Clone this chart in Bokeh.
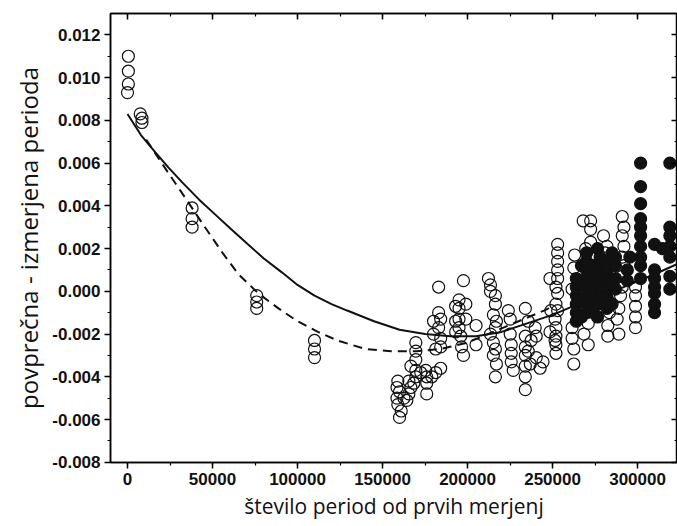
from bokeh.plotting import figure
from bokeh.models import (Range1d, LinearAxis, SingleIntervalTicker,
                          NumeralTickFormatter, CustomJSTickFormatter)
from bokeh.embed import file_html
from bokeh.resources import INLINE

# open circles (x, y)
open_pts = [
    (500, 0.0110), (500, 0.0103), (500, 0.0097), (0, 0.0093),
    (7500, 0.0083), (8500, 0.0081), (8500, 0.0079),
    (38000, 0.0039), (38000, 0.0034), (38000, 0.0030),
    (76000, -0.0002), (76000, -0.0005), (76000, -0.0008),
    (110000, -0.0023), (110000, -0.0027), (110000, -0.0031),
    (159000, -0.0042), (158500, -0.0045), (160000, -0.0047), (158500, -0.0050),
    (159000, -0.0053), (161000, -0.0056), (160000, -0.0059),
    (162600, -0.0050), (164300, -0.0051), (165500, -0.0048), (166700, -0.0045),
    (168400, -0.0043), (165500, -0.0042), (169600, -0.0040), (169600, -0.0037),
    (166700, -0.0035), (169600, -0.0032), (169600, -0.0028), (169600, -0.0024),
    (172500, -0.0038), (175400, -0.0037), (176000, -0.0040), (176000, -0.0043),
    (176000, -0.0048), (179000, -0.0040), (181300, -0.0038), (184200, -0.0036),
    (180000, -0.0014), (183000, -0.0010), (184200, -0.0013), (183000, -0.0017),
    (180000, -0.0020), (184200, -0.0022), (181300, -0.0027), (184200, -0.0026),
    (183000, 0.0002),
    (193000, -0.0007), (193000, -0.0014), (193000, -0.0019),
    (197600, 0.0005),
    (195000, -0.0004), (199000, -0.0006), (195000, -0.0008), (195000, -0.0013),
    (199000, -0.0013), (195000, -0.0017), (196000, -0.0021), (196500, -0.0026),
    (197600, -0.0030),
    (205000, -0.0016), (205000, -0.0025),
    (212300, 0.0006), (213500, 0.0003), (213500, 0.0000), (216400, -0.0002),
    (216400, -0.0006), (215200, -0.0011), (217000, -0.0014), (216400, -0.0017),
    (213500, -0.0020), (215200, -0.0024), (216400, -0.0027), (215200, -0.0030),
    (217000, -0.0034), (216400, -0.0040),
    (224000, -0.0009), (225100, -0.0013), (225100, -0.0020), (225700, -0.0025),
    (225700, -0.0029), (225700, -0.0033), (226900, -0.0037),
    (234000, -0.0008), (234000, -0.0021), (234000, -0.0026), (234000, -0.0030),
    (234000, -0.0035), (234000, -0.0040), (234000, -0.0046),
    (235700, -0.0014), (239800, -0.0017), (240400, -0.0021), (237400, -0.0023),
    (235700, -0.0028), (240400, -0.0031), (236900, -0.0034), (242700, -0.0036),
    (244400, -0.0033),
    (253000, 0.0022), (253000, 0.0018), (253000, 0.0014), (253000, 0.0010),
    (253000, 0.0006), (252000, 0.0002), (253000, -0.0001), (252000, -0.0006),
    (253000, -0.0009), (251500, -0.0013), (252000, -0.0017), (252000, -0.0021),
    (252000, -0.0025), (252000, -0.0029),
    (248500, 0.0006), (249000, -0.0009), (248500, -0.0019), (251500, -0.0023),
    (263000, 0.0017), (262500, 0.0011), (261500, 0.0001), (261500, -0.0017),
    (261500, -0.0022), (262500, -0.0027), (262500, -0.0034),
    (268000, 0.0033), (272400, 0.0033), (272400, 0.0029), (272400, 0.0023),
    (269500, 0.0020), (271000, -0.0015), (268500, -0.0020), (271000, -0.0025),
    (280000, 0.0026), (282000, 0.0021), (281000, 0.0018), (281000, 0.0014),
    (282500, 0.0002), (282500, -0.0004), (283500, -0.0010), (282500, -0.0016),
    (282500, -0.0021),
    (291000, 0.0035), (292000, 0.0030), (291000, 0.0026), (292000, 0.0021),
    (291000, 0.0016), (292000, 0.0012), (291000, 0.0007), (291000, 0.0002),
    (290000, -0.0002), (289000, -0.0008), (288000, -0.0013), (289000, -0.0020),
    (298800, 0.0002), (298800, -0.0002), (298800, -0.0007), (298800, -0.0012),
    (298800, -0.0017),
]

# filled circles (x, y)
filled_pts = [
    (264000, 0.0006), (264000, 0.0002), (264000, -0.0002), (264000, -0.0006),
    (264000, -0.0010), (264000, -0.0014),
    (267000, 0.0012), (267000, 0.0004), (267000, -0.0004), (267000, -0.0012),
    (270000, 0.0018), (270000, 0.0014), (270000, 0.0010), (270000, 0.0006),
    (270000, 0.0002), (270000, -0.0002), (270000, -0.0006), (270000, -0.0010),
    (274000, 0.0012), (274000, 0.0008), (274000, 0.0004), (274000, 0.0000),
    (274000, -0.0004), (274000, -0.0008),
    (276500, 0.0020), (276500, 0.0010), (276500, -0.0006), (276500, -0.0012),
    (278000, 0.0016), (278000, 0.0012), (278000, 0.0008), (278000, 0.0004),
    (278000, -0.0002),
    (282000, 0.0014), (282000, 0.0010), (282000, 0.0006), (282000, 0.0002),
    (282000, -0.0003), (282000, -0.0008),
    (285000, 0.0018), (285000, 0.0004), (285000, -0.0006),
    (287000, 0.0016), (287000, 0.0012), (287000, 0.0006), (287000, 0.0001),
    (294000, 0.0010), (294000, 0.0005), (295500, 0.0016),
    (301800, 0.0060), (301800, 0.0049), (301800, 0.0041), (301800, 0.0034),
    (301800, 0.0030), (301800, 0.0026), (301800, 0.0021), (301800, 0.0016),
    (301800, 0.0012), (301800, 0.0006),
    (310000, 0.0022), (310000, 0.0010), (310000, 0.0006), (310000, 0.0002),
    (310000, -0.0001), (310000, -0.0006), (310000, -0.0010),
    (314600, 0.0020),
    (319000, 0.0060), (319000, 0.0030), (319000, 0.0026), (319000, 0.0021),
    (319000, 0.0016), (319000, 0.0007), (319000, 0.0001),
]

# solid fit curve
solid_x = [0, 8000, 16400, 24000, 32200, 42000, 51500, 61000, 70800, 80000,
           90600, 100000, 110000, 120000, 129200, 145000, 160000, 175000,
           190000, 205000, 220000, 235000, 250000, 265000, 280000, 295000,
           310000, 324000]
solid_y = [0.0083, 0.0073, 0.0065, 0.0058, 0.0051, 0.0043, 0.0036, 0.0029,
           0.0022, 0.00155, 0.0009, 0.0003, -0.0002, -0.0006, -0.0009,
           -0.0014, -0.0018, -0.0020, -0.0021, -0.0021, -0.0019, -0.0015,
           -0.0011, -0.0006, -0.0002, 0.0003, 0.0008, 0.0013]

# dashed fit curve
dashed_x = [11000, 23500, 31200, 44700, 55900, 65300, 77000, 88800, 100000,
            112000, 123500, 140000, 155000, 170000, 184000, 200000, 215000,
            230000, 245000, 250000]
dashed_y = [0.0071, 0.0056, 0.0047, 0.0031, 0.0018, 0.0008, -0.0001, -0.0008,
            -0.0014, -0.0019, -0.0023, -0.0027, -0.0028, -0.0028, -0.0027,
            -0.0024, -0.0019, -0.0014, -0.0009, -0.0007]

x_label = "število period od prvih merjenj"
y_label = "povprečna - izmerjena perioda"

open_x = [a for a, b in open_pts]
open_y = [b for a, b in open_pts]
filled_x = [a for a, b in filled_pts]
filled_y = [b for a, b in filled_pts]

p = figure(width=677, height=526, output_backend="svg", toolbar_location=None,
           x_range=Range1d(-10000, 323500), y_range=Range1d(-0.00801, 0.013),
           min_border_left=110, min_border_right=0, min_border_top=13,
           min_border_bottom=64)
p.grid.visible = False
p.outline_line_color = "black"
p.outline_line_width = 1.5

for ax in (p.xaxis[0], p.yaxis[0]):
    ax.major_label_text_font = "Liberation Sans"
    ax.major_label_text_font_style = "bold"
    ax.major_label_text_font_size = "17px"
    ax.major_label_text_color = "#111111"
    ax.axis_label_text_font = "Open Sans"
    ax.axis_label_text_font_style = "normal"
    ax.axis_label_text_color = "#111111"
    ax.axis_line_width = 1.5
    ax.major_tick_line_width = 1.5
    ax.minor_tick_line_width = 1.2
    ax.major_tick_in = 0
    ax.major_tick_out = 6
    ax.minor_tick_in = 0
    ax.minor_tick_out = 3

p.xaxis[0].ticker = SingleIntervalTicker(interval=50000, num_minor_ticks=2)
p.xaxis[0].formatter = NumeralTickFormatter(format="0")
p.xaxis[0].axis_label = x_label
p.xaxis[0].axis_label_text_font_size = "21px"
p.xaxis[0].major_label_standoff = 4
p.xaxis[0].axis_label_standoff = 4

p.yaxis[0].ticker = SingleIntervalTicker(interval=0.002, num_minor_ticks=2)
p.yaxis[0].formatter = NumeralTickFormatter(format="0.000")
p.yaxis[0].axis_label = y_label
p.yaxis[0].axis_label_text_font_size = "24px"
p.yaxis[0].major_label_standoff = 4
p.yaxis[0].axis_label_standoff = 4

blank = CustomJSTickFormatter(code="return ''")
top = LinearAxis(ticker=SingleIntervalTicker(interval=50000, num_minor_ticks=2),
                 formatter=blank, major_label_standoff=0, axis_label_standoff=0,
                 major_label_text_font_size="1px",
                 major_tick_in=6, major_tick_out=0, minor_tick_in=3, minor_tick_out=0,
                 axis_line_width=1.5, major_tick_line_width=1.5, minor_tick_line_width=1.2)
p.add_layout(top, "above")
right = LinearAxis(ticker=SingleIntervalTicker(interval=0.002, num_minor_ticks=2),
                   formatter=blank, major_label_standoff=0, axis_label_standoff=0,
                   major_label_text_font_size="1px",
                   major_tick_in=6, major_tick_out=0, minor_tick_in=3, minor_tick_out=0,
                   axis_line_width=1.5, major_tick_line_width=1.5, minor_tick_line_width=1.2)
p.add_layout(right, "right")

p.scatter(open_x, open_y, marker="circle", size=12, fill_color=None,
          line_color="#111111", line_width=1.2)
p.line(solid_x, solid_y, line_color="#111111", line_width=2)
p.line(dashed_x, dashed_y, line_color="#111111", line_width=2, line_dash="9 6")
p.scatter(filled_x, filled_y, marker="circle", size=12, fill_color="#111111",
          line_color="#111111", line_width=1.2)

open("out.html", "w").write(file_html(p, INLINE))
